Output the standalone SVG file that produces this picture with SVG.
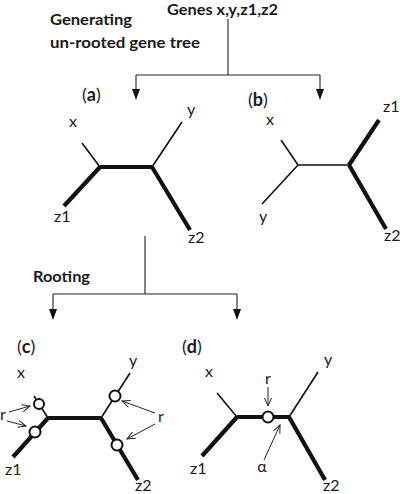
<svg xmlns="http://www.w3.org/2000/svg" width="400" height="494" viewBox="0 0 400 494">
<style>
text{font-family:Lato,"Open Sans",sans-serif;fill:#1a1a1a}
.h{font-size:16px;font-weight:bold}
.l{font-size:16px}
.p{font-size:18px}
.p tspan{font-weight:bold}
.thin{stroke:#111;stroke-width:1.6;fill:none;stroke-linecap:butt}
.thick{stroke:#111;stroke-width:4.2;fill:none;stroke-linecap:butt}
.con{stroke:#222;stroke-width:1.1;fill:none}
.ar{stroke:#222;stroke-width:1;fill:none}
.c{fill:#fff;stroke:#111;stroke-width:2}
</style>
<defs>
<marker id="open" markerWidth="10" markerHeight="8" refX="9" refY="4" orient="auto" markerUnits="userSpaceOnUse">
<path d="M1,0.5 L9,4 L1,7.5" fill="none" stroke="#222" stroke-width="1"/>
</marker>
</defs>

<g id="titles">
<text class="h" x="167" y="15" style="font-size:15px" textLength="111" lengthAdjust="spacingAndGlyphs">Genes x,y,z1,z2</text>
<text class="h" x="50" y="25" textLength="82" lengthAdjust="spacingAndGlyphs">Generating</text>
<text class="h" x="50" y="48" textLength="150" lengthAdjust="spacingAndGlyphs">un-rooted gene tree</text>
<text class="h" x="33" y="282" textLength="57" lengthAdjust="spacingAndGlyphs">Rooting</text>
</g>

<g id="connectors">
<path class="con" d="M228,19 V75 M136,75 H320 M136,75 V90 M320,75 V90"/>
<path d="M132,89 L140,89 L136,100 Z M316,89 L324,89 L320,100 Z" fill="#111"/>
<path class="con" d="M145,236 V294 M53,294 H237 M53,294 V310 M237,294 V310"/>
<path d="M49,309 L57,309 L53,320 Z M233,309 L241,309 L237,320 Z" fill="#111"/>
</g>

<g id="tree-a">
<text class="p" x="82" y="101">(<tspan>a</tspan>)</text>
<path class="thin" d="M82,143 L100,167 M152,167 L182,122"/>
<path class="thick" d="M100,167 H152 M100,167 L64,206 M152,167 L190,230"/>
<text class="l" x="73" y="127" text-anchor="middle">x</text>
<text class="l" x="191" y="115" text-anchor="middle">y</text>
<text class="l" x="54" y="222">z1</text>
<text class="l" x="188" y="243">z2</text>
</g>

<g id="tree-b">
<text class="p" x="248" y="106">(<tspan>b</tspan>)</text>
<path class="thin" d="M281,140 L298,165 H349 M298,165 L262,204"/>
<path class="thick" d="M349,165 L379,120 M349,165 L386,229"/>
<text class="l" x="270" y="125" text-anchor="middle">x</text>
<text class="l" x="263" y="222" text-anchor="middle">y</text>
<text class="l" x="383" y="112">z1</text>
<text class="l" x="384" y="241">z2</text>
</g>

<g id="tree-c">
<text class="p" x="17" y="353">(<tspan>c</tspan>)</text>
<path class="thin" d="M48,418 L34,396 M101,418 L130,373"/>
<path class="thick" d="M48,418 H101 M48,418 L13,457 M101,418 L138,480"/>
<circle class="c" cx="39" cy="404" r="5"/>
<circle class="c" cx="35" cy="432" r="5.5"/>
<circle class="c" cx="115" cy="396" r="5.5"/>
<circle class="c" cx="117" cy="445" r="5.5"/>
<text class="l" x="21" y="378" text-anchor="middle">x</text>
<text class="l" x="133" y="366" text-anchor="middle">y</text>
<text class="l" x="5" y="475">z1</text>
<text class="l" x="135" y="491">z2</text>
<text class="l" x="3" y="420" text-anchor="middle">r</text>
<text class="l" x="161" y="422" text-anchor="middle">r</text>
<path class="ar" marker-end="url(#open)" d="M9,412 L30,406"/>
<path class="ar" marker-end="url(#open)" d="M7,421 L26,426"/>
<path class="ar" marker-end="url(#open)" d="M155,413 L122,401"/>
<path class="ar" marker-end="url(#open)" d="M155,424 L127,439"/>
</g>

<g id="tree-d">
<text class="p" x="182" y="353">(<tspan>d</tspan>)</text>
<path class="thin" d="M217,393 L237,417 M289,417 L318,372"/>
<path class="thick" d="M237,417 H289 M237,417 L202,456 M289,417 L325,480"/>
<circle class="c" cx="268" cy="417" r="5.5"/>
<text class="l" x="209" y="377" text-anchor="middle">x</text>
<text class="l" x="328" y="365" text-anchor="middle">y</text>
<text class="l" x="190" y="474">z1</text>
<text class="l" x="323" y="491">z2</text>
<text class="l" x="268" y="384" text-anchor="middle">r</text>
<text class="l" x="262" y="472" text-anchor="middle">α</text>
<path class="ar" marker-end="url(#open)" d="M268,387 L268,406"/>
<path class="ar" marker-end="url(#open)" d="M264,460 L280,425"/>
</g>
</svg>
